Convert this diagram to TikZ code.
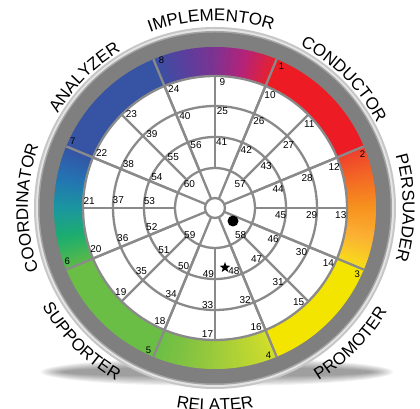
\documentclass[tikz,border=0pt]{standalone}
\usepackage{fontspec}
\setmainfont{Liberation Sans}
\usetikzlibrary{decorations.text,shapes.geometric}
\definecolor{im0}{HTML}{3A50A3}\definecolor{im1}{HTML}{5B3F9E}\definecolor{im2}{HTML}{7E3291}\definecolor{im3}{HTML}{B52379}\definecolor{im4}{HTML}{E8202E}
\definecolor{pe0}{HTML}{EF3E2D}\definecolor{pe1}{HTML}{F36B24}\definecolor{pe2}{HTML}{F7921E}\definecolor{pe3}{HTML}{FBB134}\definecolor{pe4}{HTML}{F7DC1A}
\definecolor{re0}{HTML}{D2DE2A}\definecolor{re1}{HTML}{B7D433}\definecolor{re2}{HTML}{9CCB3C}\definecolor{re3}{HTML}{82C341}\definecolor{re4}{HTML}{6BBE45}
\definecolor{co0}{HTML}{5BBA47}\definecolor{co1}{HTML}{1DAE6E}\definecolor{co2}{HTML}{1A96A0}\definecolor{co3}{HTML}{2473B3}\definecolor{co4}{HTML}{3553A4}
\definecolor{segred}{HTML}{ED1C24}
\definecolor{segyellow}{HTML}{F4E500}
\definecolor{seggreen}{HTML}{6ABD45}
\definecolor{segblue}{HTML}{3653A4}
\definecolor{linegray}{HTML}{8A8A8A}
\definecolor{rimdark}{HTML}{7F7F7F}
\definecolor{rimmid}{HTML}{A5A5A5}
\definecolor{rimhigh}{HTML}{E4E4E4}
\definecolor{rimlight}{HTML}{C6C6C6}
\newcommand\gradseg[2]{%
  \foreach \i in {0,...,44}{%
    \pgfmathtruncatemacro\gS{min(3,int(\i/11.25))}%
    \pgfmathtruncatemacro\gN{\gS+1}%
    \pgfmathtruncatemacro\gP{min(100,max(0,round(100*(\i+0.5-11.25*\gS)/11.25)))}%
    \pgfmathsetmacro\gA{#1-\i}%
    \pgfmathsetmacro\gB{#1-\i-1.4}%
    \fill[#2\gN!\gP!#2\gS] (\gA:132) arc[start angle=\gA,end angle=\gB,radius=132] -- (\gB:161) arc[start angle=\gB,end angle=\gA,radius=161] -- cycle;
  }}
\newcommand\solidseg[2]{%
  \fill[#2] (#1:132) arc[start angle=#1,end angle=#1-45,radius=132] -- (#1-45:161) arc[start angle=#1-45,end angle=#1,radius=161] -- cycle;}
\tikzset{
  rad/.style={draw=linegray, line width=2.3pt},
  num/.style={font=\fontsize{10}{10}\selectfont, inner sep=0pt, text=black},
  cnum/.style={font=\fontsize{9.5}{9.5}\selectfont, inner sep=0pt, text=black},
  toplabel/.style={decorate, decoration={text along path, text align=center, text={|\fontsize{17}{17}\selectfont|#1}}},
}
\begin{document}
\begin{tikzpicture}[x=1pt,y=1pt]
\useasboundingbox (0,0) rectangle (420,409);
\clip (0,0) rectangle (420,409);
\fill[white] (0,0) rectangle (420,409);
\begin{scope}[shift={(215,201)}]
  % shadow
  \foreach \s in {0,...,7}
    \fill[black, opacity=0.055] (2,-164) ellipse[x radius=176-3*\s, y radius=14-1.3*\s];
  % rims
  \fill[rimlight] (0,0) circle[radius=181];
  \fill[rimhigh] (0,0) circle[radius=179];
  \fill[rimmid] (0,0) circle[radius=177];
  \fill[rimdark] (0,0) circle[radius=175.5];
  % colour ring
  \gradseg{112.5}{im}
  \gradseg{22.5}{pe}
  \gradseg{-67.5}{re}
  \gradseg{-157.5}{co}
  \solidseg{67.5}{segred}
  \solidseg{-22.5}{segyellow}
  \solidseg{-112.5}{seggreen}
  \solidseg{157.5}{segblue}
  % white disc
  \fill[white] (0,0) circle[radius=132];
  \foreach \r in {40,71,102,132}
    \draw[rad] (0,0) circle[radius=\r];
  \foreach \k in {0,...,15}
    \draw[rad] (\k*22.5:40) -- (\k*22.5:132);
  \foreach \k in {0,...,7}
    \draw[rad] (22.5+\k*45:10) -- (22.5+\k*45:161);
  \filldraw[fill=white, draw=linegray, line width=2.3pt] (0,0) circle[radius=10];
  % numbers
  \foreach \k in {1,...,8}{
    \pgfmathsetmacro\tB{67.5-45*(\k-1)-2.6}
    \node[cnum] (n\k) at (\tB:157) {\k};
  }
  \foreach \j in {0,...,15}{
    \pgfmathtruncatemacro\nA{9+\j}
    \pgfmathtruncatemacro\nB{25+\j}
    \pgfmathtruncatemacro\nC{41+\j}
    \pgfmathsetmacro\tA{90-22.5*\j}
    \node[num] (n\nA) at (\tA-3.4:126) {\nA};
    \node[num] (n\nB) at (\tA-4.4:97) {\nB};
    \node[num] (n\nC) at (\tA-5.8:66) {\nC};
  }
  \node[num] (n57) at (44:35) {57};
  \node[num] (n58) at (-46:37) {58};
  \node[num] (n59) at (-133:37) {59};
  \node[num] (n60) at (137:35) {60};
  % markers
  \node[circle, fill=black, minimum size=11pt, inner sep=0pt] (dot) at (18,-13) {};
  \node[star, star points=5, star point ratio=2.4, fill=black, minimum size=11pt, inner sep=0pt] (star) at (10,-59.5) {};
  % outer labels
  \path[toplabel=IMPLEMENTOR] (121.2:187) arc[start angle=121.2, end angle=61.2, radius=187];
  \path[toplabel=CONDUCTOR] (75:183) arc[start angle=75, end angle=15, radius=183];
  \path[toplabel=PERSUADER] (30:188) arc[start angle=30, end angle=-30, radius=188];
  \path[toplabel=COORDINATOR] (210:187) arc[start angle=210, end angle=150, radius=187];
  \path[toplabel=ANALYZER] (165:183) arc[start angle=165, end angle=105, radius=183];
  \path[toplabel=PROMOTER] (-75:201) arc[start angle=-75, end angle=-15, radius=201];
  \path[toplabel=RELATER] (-120:203) arc[start angle=-120, end angle=-60, radius=203];
  \path[toplabel=SUPPORTER] (-165:199) arc[start angle=-165, end angle=-105, radius=199];
\end{scope}
\end{tikzpicture}
\end{document}
